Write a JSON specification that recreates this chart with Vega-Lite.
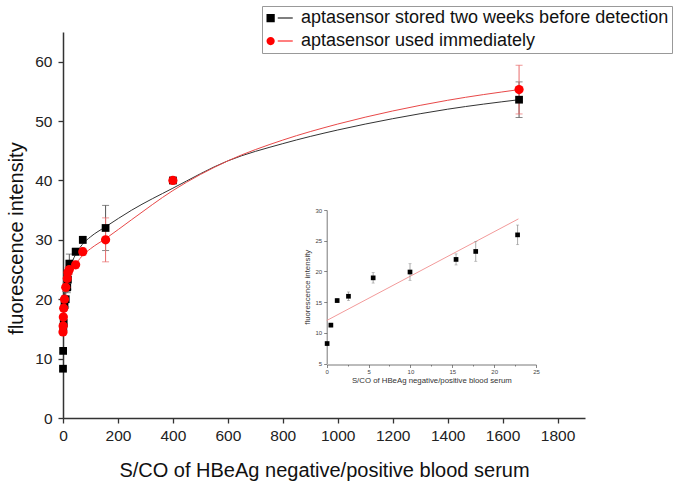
{
  "$schema": "https://vega.github.io/schema/vega-lite/v6.json",
  "width": 522,
  "height": 386,
  "autosize": {"type": "none"},
  "padding": {"left": 63, "top": 32, "right": 90, "bottom": 68},
  "background": "white",
  "config": {
    "view": {"stroke": null},
    "font": "Liberation Sans",
    "axis": {"grid": false, "labelFont": "Liberation Sans", "titleFont": "Liberation Sans", "titleFontWeight": "normal"}
  },
  "datasets": {
    "pts": [
      {"series": "aptasensor stored two weeks before detection", "x": 0, "y": 8.3, "lo": 8.0, "hi": 8.6},
      {"series": "aptasensor stored two weeks before detection", "x": 0.5, "y": 11.3, "lo": 11.0, "hi": 11.6},
      {"series": "aptasensor stored two weeks before detection", "x": 1.2, "y": 15.3, "lo": 15.0, "hi": 15.6},
      {"series": "aptasensor stored two weeks before detection", "x": 2.6, "y": 16.0, "lo": 15.3, "hi": 16.7},
      {"series": "aptasensor stored two weeks before detection", "x": 5.5, "y": 19.0, "lo": 18.2, "hi": 19.8},
      {"series": "aptasensor stored two weeks before detection", "x": 10, "y": 20.0, "lo": 18.7, "hi": 21.3},
      {"series": "aptasensor stored two weeks before detection", "x": 15.5, "y": 22.0, "lo": 21.1, "hi": 22.9},
      {"series": "aptasensor stored two weeks before detection", "x": 17.8, "y": 23.3, "lo": 21.7, "hi": 24.9},
      {"series": "aptasensor stored two weeks before detection", "x": 23, "y": 26.0, "lo": 24.4, "hi": 27.6},
      {"series": "aptasensor stored two weeks before detection", "x": 46, "y": 28.0, "lo": 27.4, "hi": 28.6},
      {"series": "aptasensor stored two weeks before detection", "x": 72, "y": 30.0, "lo": 29.4, "hi": 30.6},
      {"series": "aptasensor stored two weeks before detection", "x": 155, "y": 32.0, "lo": 28.2, "hi": 35.8},
      {"series": "aptasensor stored two weeks before detection", "x": 400, "y": 40.0, "lo": 39.6, "hi": 40.4},
      {"series": "aptasensor stored two weeks before detection", "x": 1660, "y": 53.6, "lo": 50.6, "hi": 56.6},
      {"series": "aptasensor used immediately", "x": 0, "y": 14.5, "lo": 14.0, "hi": 15.0},
      {"series": "aptasensor used immediately", "x": 0.5, "y": 15.5, "lo": 15.0, "hi": 16.0},
      {"series": "aptasensor used immediately", "x": 1.2, "y": 17.0, "lo": 16.5, "hi": 17.5},
      {"series": "aptasensor used immediately", "x": 2.6, "y": 18.5, "lo": 18.0, "hi": 19.0},
      {"series": "aptasensor used immediately", "x": 5.5, "y": 20.0, "lo": 19.4, "hi": 20.6},
      {"series": "aptasensor used immediately", "x": 10, "y": 22.0, "lo": 21.3, "hi": 22.7},
      {"series": "aptasensor used immediately", "x": 15.5, "y": 23.5, "lo": 22.8, "hi": 24.2},
      {"series": "aptasensor used immediately", "x": 17.8, "y": 24.5, "lo": 23.7, "hi": 25.3},
      {"series": "aptasensor used immediately", "x": 23, "y": 25.0, "lo": 24.2, "hi": 25.8},
      {"series": "aptasensor used immediately", "x": 46, "y": 25.8, "lo": 25.2, "hi": 26.4},
      {"series": "aptasensor used immediately", "x": 72, "y": 28.0, "lo": 27.4, "hi": 28.6},
      {"series": "aptasensor used immediately", "x": 155, "y": 30.0, "lo": 26.3, "hi": 33.7},
      {"series": "aptasensor used immediately", "x": 400, "y": 40.0, "lo": 39.6, "hi": 40.4},
      {"series": "aptasensor used immediately", "x": 1660, "y": 55.3, "lo": 51.2, "hi": 59.4}
    ],
    "fit": [
      {"series": "stored", "x": 2, "y": 18.0},
      {"series": "stored", "x": 5, "y": 20.5},
      {"series": "stored", "x": 10, "y": 22.5},
      {"series": "stored", "x": 20, "y": 24.5},
      {"series": "stored", "x": 40, "y": 27.0},
      {"series": "stored", "x": 70, "y": 29.2},
      {"series": "stored", "x": 100, "y": 30.5},
      {"series": "stored", "x": 155, "y": 32.2},
      {"series": "stored", "x": 250, "y": 35.0},
      {"series": "stored", "x": 400, "y": 38.7},
      {"series": "stored", "x": 600, "y": 43.3},
      {"series": "stored", "x": 800, "y": 46.2},
      {"series": "stored", "x": 1000, "y": 48.5},
      {"series": "stored", "x": 1200, "y": 50.4},
      {"series": "stored", "x": 1400, "y": 52.0},
      {"series": "stored", "x": 1660, "y": 53.6},
      {"series": "immediate", "x": 2, "y": 16.5},
      {"series": "immediate", "x": 5, "y": 19.0},
      {"series": "immediate", "x": 10, "y": 21.0},
      {"series": "immediate", "x": 20, "y": 23.0},
      {"series": "immediate", "x": 40, "y": 25.3},
      {"series": "immediate", "x": 70, "y": 27.3},
      {"series": "immediate", "x": 100, "y": 28.5},
      {"series": "immediate", "x": 155, "y": 30.2},
      {"series": "immediate", "x": 250, "y": 33.4},
      {"series": "immediate", "x": 400, "y": 38.3},
      {"series": "immediate", "x": 600, "y": 43.3},
      {"series": "immediate", "x": 800, "y": 46.8},
      {"series": "immediate", "x": 1000, "y": 49.5},
      {"series": "immediate", "x": 1200, "y": 51.7},
      {"series": "immediate", "x": 1400, "y": 53.5},
      {"series": "immediate", "x": 1660, "y": 55.3}
    ],
    "inset": [
      {"x": 0.05, "y": 8.25, "lo": 7.9, "hi": 8.6},
      {"x": 0.5, "y": 11.25, "lo": 10.95, "hi": 11.55},
      {"x": 1.25, "y": 15.25, "lo": 14.95, "hi": 15.55},
      {"x": 2.6, "y": 15.95, "lo": 15.25, "hi": 16.65},
      {"x": 5.55, "y": 18.95, "lo": 18.1, "hi": 19.8},
      {"x": 9.95, "y": 19.9, "lo": 18.55, "hi": 21.25},
      {"x": 15.45, "y": 21.95, "lo": 21.05, "hi": 22.85},
      {"x": 17.8, "y": 23.25, "lo": 21.65, "hi": 24.85},
      {"x": 22.8, "y": 25.95, "lo": 24.35, "hi": 27.55}
    ],
    "insetFit": [
      {"x": 0, "y": 12.0},
      {"x": 22.9, "y": 28.55}
    ]
  },
  "layer": [
    {
      "layer": [
        {
          "data": {"name": "fit"},
          "mark": {"type": "line", "interpolate": "monotone", "strokeWidth": 1},
          "encoding": {
            "x": {"field": "x", "type": "quantitative", "title": "S/CO of HBeAg negative/positive blood serum",
              "scale": {"domain": [0, 1900], "nice": false, "zero": false},
              "axis": {"orient": "bottom",
                "values": [0,100,200,300,400,500,600,700,800,900,1000,1100,1200,1300,1400,1500,1600,1700,1800,1900],
                "labelExpr": "datum.value % 200 == 0 ? datum.label : ''",
                "format": "d", "labelFlush": false, "labelOverlap": false,
                "labelFontSize": 15.5, "labelColor": "#222", "labelPadding": 5,
                "tickSize": {"condition": {"test": "datum.value % 200 == 0", "value": 5}, "value": 3},
                "tickColor": "#333", "tickWidth": 1.3, "domainColor": "#333", "domainWidth": 1.5,
                "titleFontSize": 20, "titleColor": "#111", "titlePadding": 17}},
            "y": {"field": "y", "type": "quantitative", "title": "fluorescence intensity",
              "scale": {"domain": [0, 65], "nice": false, "zero": false},
              "axis": {"orient": "left",
                "values": [0,5,10,15,20,25,30,35,40,45,50,55,60,65],
                "labelExpr": "datum.value % 10 == 0 ? datum.label : ''",
                "format": "d", "labelFlush": false, "labelOverlap": false,
                "labelFontSize": 15.5, "labelColor": "#222", "labelPadding": 6,
                "tickSize": {"condition": {"test": "datum.value % 10 == 0", "value": 5}, "value": 3},
                "tickColor": "#333", "tickWidth": 1.3, "domainColor": "#333", "domainWidth": 1.5,
                "titleFontSize": 20, "titleColor": "#111", "titlePadding": 8, "titleY": 206}},
            "stroke": {"field": "series", "type": "nominal",
              "scale": {"domain": ["stored", "immediate"], "range": ["#333333", "#e84848"]}, "legend": null}
          }
        },
        {
          "data": {"name": "pts"},
          "transform": [{"filter": "datum.series == 'aptasensor stored two weeks before detection'"}],
          "mark": {"type": "errorbar", "ticks": {"size": 7}, "color": "#555555", "thickness": 1},
          "encoding": {
            "x": {"field": "x", "type": "quantitative", "title": "S/CO of HBeAg negative/positive blood serum", "scale": {"domain": [0, 1900], "nice": false, "zero": false}},
            "y": {"field": "lo", "type": "quantitative", "title": "fluorescence intensity", "scale": {"domain": [0, 65], "nice": false, "zero": false}},
            "y2": {"field": "hi"}
          }
        },
        {
          "data": {"name": "pts"},
          "transform": [{"filter": "datum.series == 'aptasensor used immediately'"}],
          "mark": {"type": "errorbar", "ticks": {"size": 7}, "color": "#e86a6a", "thickness": 1},
          "encoding": {
            "x": {"field": "x", "type": "quantitative", "title": "S/CO of HBeAg negative/positive blood serum", "scale": {"domain": [0, 1900], "nice": false, "zero": false}},
            "y": {"field": "lo", "type": "quantitative", "title": "fluorescence intensity", "scale": {"domain": [0, 65], "nice": false, "zero": false}},
            "y2": {"field": "hi"}
          }
        },
        {
          "data": {"name": "pts"},
          "transform": [{"filter": "datum.series == 'aptasensor stored two weeks before detection'"}],
          "mark": {"type": "point", "shape": "square", "size": 60, "filled": true, "opacity": 1, "color": "#000000"},
          "encoding": {
            "x": {"field": "x", "type": "quantitative", "title": "S/CO of HBeAg negative/positive blood serum", "scale": {"domain": [0, 1900], "nice": false, "zero": false}},
            "y": {"field": "y", "type": "quantitative", "title": "fluorescence intensity", "scale": {"domain": [0, 65], "nice": false, "zero": false}}
          }
        },
        {
          "data": {"name": "pts"},
          "transform": [{"filter": "datum.series == 'aptasensor used immediately'"}],
          "mark": {"type": "point", "shape": "circle", "size": 85, "filled": true, "opacity": 1, "color": "#ff0000"},
          "encoding": {
            "x": {"field": "x", "type": "quantitative", "title": "S/CO of HBeAg negative/positive blood serum", "scale": {"domain": [0, 1900], "nice": false, "zero": false}},
            "y": {"field": "y", "type": "quantitative", "title": "fluorescence intensity", "scale": {"domain": [0, 65], "nice": false, "zero": false}}
          }
        },
        {
          "data": {"name": "pts"},
          "mark": {"type": "point", "filled": true, "opacity": 0},
          "encoding": {
            "x": {"field": "x", "type": "quantitative", "title": "S/CO of HBeAg negative/positive blood serum", "scale": {"domain": [0, 1900], "nice": false, "zero": false}},
            "y": {"field": "y", "type": "quantitative", "title": "fluorescence intensity", "scale": {"domain": [0, 65], "nice": false, "zero": false}},
            "color": {"field": "series", "type": "nominal",
              "scale": {"domain": ["aptasensor stored two weeks before detection", "aptasensor used immediately"], "range": ["#000000", "#ff0000"]},
              "legend": {"orient": "none", "legendX": 199, "legendY": -26, "title": null,
                "labelFontSize": 18, "labelFont": "Liberation Sans", "labelColor": "#111", "labelLimit": 600,
                "symbolSize": 225, "symbolOpacity": 1, "labelOffset": 18, "rowPadding": 5, "padding": 3,
                "strokeColor": "#999999", "fillColor": "#ffffff"}},
            "shape": {"field": "series", "type": "nominal",
              "scale": {"domain": ["aptasensor stored two weeks before detection", "aptasensor used immediately"],
                "range": ["M-1,-0.55H0.1V0.55H-1Z M0.5,-0.065H2.5V0.065H0.5Z", "M-1,0A0.55,0.55,0,1,1,0.1,0A0.55,0.55,0,1,1,-1,0Z M0.5,-0.065H2.5V0.065H0.5Z"]},
              "legend": {"orient": "none", "legendX": 199, "legendY": -26, "title": null,
                "labelFontSize": 18, "labelFont": "Liberation Sans", "labelColor": "#111", "labelLimit": 600,
                "symbolSize": 225, "symbolOpacity": 1, "labelOffset": 18, "rowPadding": 5, "padding": 3,
                "strokeColor": "#999999", "fillColor": "#ffffff"}}
          }
        }
      ]
    },
    {
      "layer": [
        {
          "data": {"name": "insetFit"},
          "mark": {"type": "line", "color": "#f29a9a", "strokeWidth": 1},
          "encoding": {
            "x": {"field": "x", "type": "quantitative", "title": "S/CO of HBeAg negative/positive blood serum",
              "scale": {"domain": [0, 25], "range": [263.7, 473], "nice": false, "zero": false},
              "axis": {"orient": "bottom", "offset": -53.5,
                "values": [0,2.5,5,7.5,10,12.5,15,17.5,20,22.5,25],
                "labelExpr": "datum.value % 5 == 0 ? datum.label : ''",
                "format": "d", "labelFlush": false, "labelOverlap": false,
                "labelFontSize": 6, "labelColor": "#444", "labelPadding": 0.5,
                "tickSize": {"condition": {"test": "datum.value % 5 == 0", "value": 3}, "value": 1.5},
                "tickColor": "#555", "tickWidth": 0.7, "domainColor": "#555", "domainWidth": 0.8,
                "titleFontSize": 7.8, "titleColor": "#333", "titlePadding": 2}},
            "y": {"field": "y", "type": "quantitative", "title": "fluorescence intensity",
              "scale": {"domain": [5, 30], "range": [331.5, 178], "nice": false, "zero": false},
              "axis": {"orient": "left", "offset": -263.7,
                "values": [5,7.5,10,12.5,15,17.5,20,22.5,25,27.5,30],
                "labelExpr": "datum.value % 5 == 0 ? datum.label : ''",
                "format": "d", "labelFlush": false, "labelOverlap": false,
                "labelFontSize": 6, "labelColor": "#444", "labelPadding": 2,
                "tickSize": {"condition": {"test": "datum.value % 5 == 0", "value": 3}, "value": 1.5},
                "tickColor": "#555", "tickWidth": 0.7, "domainColor": "#555", "domainWidth": 0.8,
                "titleFontSize": 7.8, "titleColor": "#333", "titlePadding": 4}}
          }
        },
        {
          "data": {"name": "inset"},
          "mark": {"type": "errorbar", "ticks": {"size": 3}, "color": "#888888", "thickness": 0.7},
          "encoding": {
            "x": {"field": "x", "type": "quantitative", "title": "S/CO of HBeAg negative/positive blood serum", "scale": {"domain": [0, 25], "range": [263.7, 473], "nice": false, "zero": false}},
            "y": {"field": "lo", "type": "quantitative", "title": "fluorescence intensity", "scale": {"domain": [5, 30], "range": [331.5, 178], "nice": false, "zero": false}},
            "y2": {"field": "hi"}
          }
        },
        {
          "data": {"name": "inset"},
          "mark": {"type": "point", "shape": "square", "filled": true, "color": "#000000", "size": 22, "opacity": 1},
          "encoding": {
            "x": {"field": "x", "type": "quantitative", "title": "S/CO of HBeAg negative/positive blood serum", "scale": {"domain": [0, 25], "range": [263.7, 473], "nice": false, "zero": false}},
            "y": {"field": "y", "type": "quantitative", "title": "fluorescence intensity", "scale": {"domain": [5, 30], "range": [331.5, 178], "nice": false, "zero": false}}
          }
        }
      ]
    }
  ],
  "resolve": {"scale": {"x": "independent", "y": "independent"}, "axis": {"x": "independent", "y": "independent"}}
}
